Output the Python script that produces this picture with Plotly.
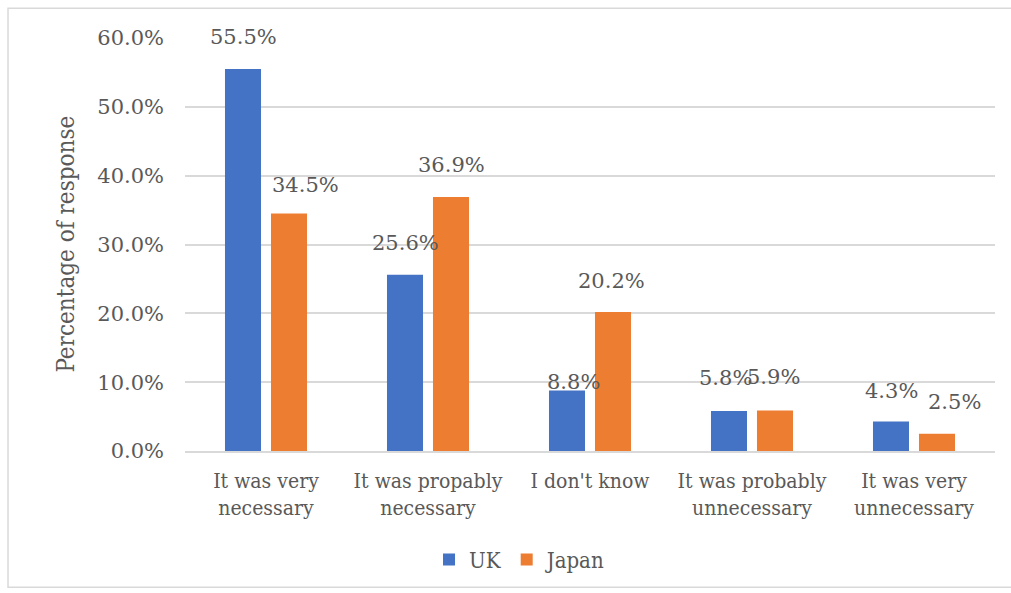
import plotly.graph_objects as go

# Survey responses (percentage of respondents)
categories = [
    "It was very<br>necessary",
    "It was propably<br>necessary",
    "I don't know",
    "It was probably<br>unnecessary",
    "It was very<br>unnecessary",
]
uk_values = [55.5, 25.6, 8.8, 5.8, 4.3]
japan_values = [34.5, 36.9, 20.2, 5.9, 2.5]
y_ticks = [0, 10, 20, 30, 40, 50, 60]

# Label placement tweaks (pixels): vertical lift above bar top and sideways nudge
uk_label_lift = [32, 32, 8, 33, 30]
uk_label_nudge = [0, 0, 6, -4, 0]
jp_label_lift = [29, 32, 31, 33, 32]
jp_label_nudge = [16, 0, -2, -2, 17]

FONT = "'DejaVu Serif', 'Liberation Serif', serif"
FONT_NARROW = "'DejaVu Serif Condensed', 'DejaVu Serif', serif"
TEXT = "#595959"
GRID = "#d9d9d9"

fig = go.Figure()
fig.add_trace(go.Bar(name="UK", x=categories, y=uk_values, marker_color="#4472C4",
                     marker_line_width=0))
fig.add_trace(go.Bar(name="Japan", x=categories, y=japan_values, marker_color="#ED7D31",
                     marker_line_width=0))

annotations = []
for i, cat in enumerate(categories):
    annotations.append(dict(x=cat, y=uk_values[i], xref="x", yref="y",
                            text=f"{uk_values[i]:.1f}%", showarrow=False,
                            xshift=-23 + uk_label_nudge[i], yshift=uk_label_lift[i],
                            font=dict(family=FONT, size=21, color=TEXT)))
    annotations.append(dict(x=cat, y=japan_values[i], xref="x", yref="y",
                            text=f"{japan_values[i]:.1f}%", showarrow=False,
                            xshift=23 + jp_label_nudge[i], yshift=jp_label_lift[i],
                            font=dict(family=FONT, size=21, color=TEXT)))

annotations.append(dict(x=-0.148, y=0.5, xref="paper", yref="paper",
                        xanchor="center", yanchor="middle",
                        text="Percentage of response", textangle=-90, showarrow=False,
                        font=dict(family=FONT_NARROW, size=24, color=TEXT)))

fig.update_layout(
    width=1011, height=593,
    margin=dict(l=185, r=16, t=38, b=140),
    paper_bgcolor="white", plot_bgcolor="white",
    barmode="group", bargap=0.432, bargroupgap=0.217,
    font=dict(family=FONT, size=20, color=TEXT),
    showlegend=True,
    legend=dict(orientation="h", x=0.4136, xanchor="center", y=-0.263, yanchor="middle",
                font=dict(family=FONT_NARROW, size=22, color=TEXT), itemwidth=30),
    annotations=annotations,
    shapes=[dict(type="rect", xref="paper", yref="paper",
                 x0=-0.2185, x1=1.043, y0=-0.330, y1=1.0723,
                 line=dict(color=GRID, width=1.5), fillcolor="rgba(0,0,0,0)", layer="below")],
)
fig.update_yaxes(range=[0, 60], tickvals=y_ticks,
                 ticktext=[f"{v:.1f}%" for v in y_ticks],
                 showgrid=True, gridcolor=GRID, gridwidth=1.5, zeroline=False,
                 showline=False, ticks="", ticklabelstandoff=20,
                 tickfont=dict(family=FONT, size=21, color=TEXT))
fig.update_xaxes(showgrid=False, showline=True, linecolor=GRID, linewidth=1.5,
                 ticks="", ticklabelstandoff=10,
                 tickfont=dict(family=FONT_NARROW, size=21, color=TEXT))

fig.write_html("out.html")
